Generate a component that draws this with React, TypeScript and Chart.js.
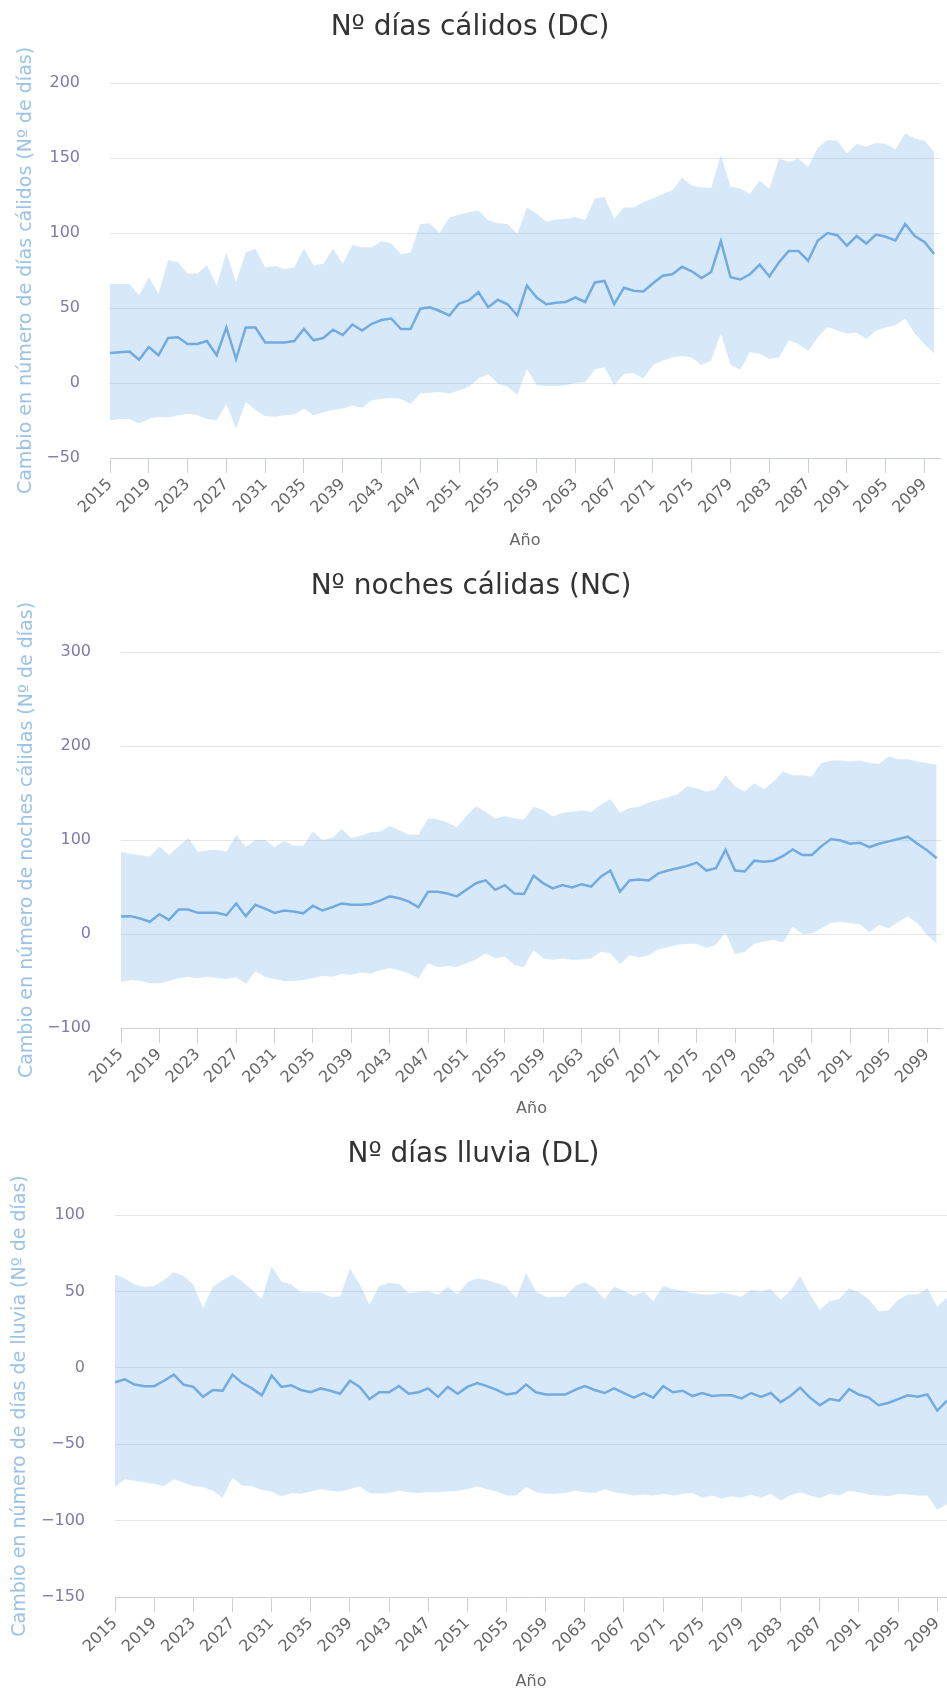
import React, { useEffect, useRef } from 'react';
import { Chart, registerables } from 'chart.js';

Chart.register(...registerables);

const YEARS: number[] = Array.from({ length: 86 }, (_, i) => 2015 + i);
const TICK_YEARS: number[] = [2015, 2019, 2023, 2027, 2031, 2035, 2039, 2043, 2047, 2051, 2055, 2059, 2063, 2067, 2071, 2075, 2079, 2083, 2087, 2091, 2095, 2099];

// Nº días cálidos (DC)
const DC_MEDIAN: number[] = [
  20, 20.5, 21, 15.5, 24, 18.5, 30, 30.5, 26, 26,
  28, 18.5, 37, 16, 37, 37, 27, 27, 27, 28,
  36, 28.5, 30, 35.5, 32, 39, 35, 39.5, 42, 43,
  36, 36, 49.5, 50.5, 48, 45, 53, 55, 60.5, 50.5,
  55.5, 52.5, 45, 65, 57, 52.5, 53.5, 54, 57, 54,
  67, 68, 52.5, 63.5, 61.5, 61, 66.5, 71.5, 72.5, 77.5,
  74.5, 70, 74, 94.5, 70.5, 69, 72.5, 79, 71, 80.5,
  88, 88, 81.5, 95, 100, 98.5, 91.5, 98, 93, 99,
  97.5, 95, 106, 98, 94, 86,
];
const DC_HIGH: number[] = [
  66, 66, 66, 58.5, 70.5, 59.5, 82, 80.5, 73, 73,
  78.5, 65, 87, 67, 87, 89.5, 77, 78, 76, 77,
  89.5, 78.5, 79.5, 89.5, 79.5, 92, 90.5, 90.5, 94.5, 93,
  86, 87, 106, 106.5, 100, 110.5, 112, 114, 115, 108.5,
  106.5, 106, 99.5, 117, 113, 107.5, 109, 109.5, 110.5, 108.5,
  123, 124, 109.5, 117, 117, 120.5, 123, 126, 128.5, 137,
  131.5, 130.5, 130, 152, 131, 129.5, 126, 135, 129.5, 149.5,
  147.5, 149.5, 144, 157, 162, 161.5, 153, 159.5, 157.5, 160,
  159.5, 155.5, 166.5, 163, 161.5, 154,
];
const DC_LOW: number[] = [
  -25, -24, -24, -27, -24, -22.5, -23, -21.5, -20.5, -21.5,
  -24, -25, -14, -30.5, -12.5, -18, -22, -22.5, -21.5, -21,
  -17, -21.5, -19.5, -18, -17, -15, -16.5, -11.5, -10.5, -10,
  -10.5, -14, -7, -6.5, -6, -7, -5, -2.5, 3, 6,
  -0.5, -2.5, -8, 9.5, -1.5, -2, -2, -1.5, 0, 0.5,
  9, 10.5, -1.5, 6, 6.5, 3, 12, 15, 17, 18,
  17, 12, 15, 33, 12, 9, 20.5, 19.5, 16, 17,
  28.5, 26, 21.5, 30.5, 37.5, 35, 33, 33.5, 29.5, 35,
  37, 38.5, 43, 33, 26, 19.5,
];

// Nº noches cálidas (NC)
const NC_MEDIAN: number[] = [
  18.5, 19, 16.5, 13, 21, 15, 26, 26, 22.5, 22.5,
  22.5, 20, 32.5, 19, 31, 27, 22.5, 25, 24, 22,
  30, 25, 28.5, 32.5, 31, 31, 32, 35.5, 40, 38,
  34.5, 28.5, 45, 45, 43, 40, 47, 54, 57, 47,
  52, 43, 42.5, 62, 54, 48.5, 52, 49.5, 53, 50.5,
  61, 67.5, 45, 57, 58, 57, 64.5, 67.5, 70, 72.5,
  76, 67.5, 70, 89.5, 67.5, 66.5, 78, 77, 78, 83,
  90, 84, 84, 93.5, 101, 99.5, 96, 97, 92.5, 96,
  98.5, 101, 103.5, 96, 89, 80.5,
];
const NC_HIGH: number[] = [
  87.5, 85, 84, 82.5, 93, 84, 93, 102, 87.5, 89,
  89.5, 87.5, 105.5, 92.5, 100, 100, 92.5, 99, 94, 94,
  109, 100, 102, 111.5, 102, 104.5, 108, 109, 115, 110.5,
  105.5, 105.5, 123, 122, 118.5, 113.5, 125.5, 136, 130, 123,
  125.5, 123, 121.5, 135.5, 132, 125, 129, 130, 131.5, 130,
  137.5, 143.5, 129, 134, 135.5, 140, 142.5, 145.5, 149, 157,
  155, 151.5, 154, 169, 157, 151.5, 160.5, 154, 162, 173,
  169, 169, 167.5, 182, 184.5, 184.5, 183.5, 184.5, 182, 181,
  189, 186, 186, 183.5, 182, 180,
];
const NC_LOW: number[] = [
  -51, -49, -50, -52.5, -52.5, -50, -47, -45.5, -47, -45.5,
  -47, -48, -46, -53, -40, -45.5, -48, -50, -50, -49,
  -47, -44.5, -45.5, -42.5, -43.5, -41, -42, -38.5, -36.5, -38.5,
  -42, -47, -31, -35, -34, -35, -31, -27, -20.5, -26,
  -24, -33, -35, -17, -26, -27.5, -26, -27.5, -27, -26,
  -19, -20.5, -32, -22.5, -25, -22.5, -16.5, -14, -11.5, -10.5,
  -10.5, -15, -11.5, 1.5, -21.5, -19, -10.5, -8, -6.5, -9,
  8, 0, 0.5, 6, 12, 13, 11.5, 10.5, 1.5, 9.5,
  6, 13, 18.5, 11.5, -1, -10,
];

// Nº días lluvia (DL)
const DL_MEDIAN: number[] = [
  -9.5, -7.5, -11, -12, -12, -8.5, -4.5, -11, -12.5, -19,
  -14.5, -15, -4.5, -10, -13.5, -18, -5, -12.5, -11.5, -14.5,
  -16, -13.5, -15, -17, -8.5, -12.5, -20.5, -16, -16, -12,
  -17, -16, -13.5, -19, -12.5, -17, -12.5, -10, -12, -14.5,
  -17.5, -16.5, -11, -16, -17.5, -17.5, -17.5, -14.5, -12, -14.5,
  -16.5, -13.5, -16.5, -19.5, -16.5, -19.5, -12, -16, -15, -18.5,
  -16.5, -18.5, -18, -18, -20, -16.5, -19, -16.5, -22.5, -18.5,
  -13, -19.5, -24.5, -20.5, -21.5, -14, -17.5, -19.5, -24.5, -23,
  -20.5, -18, -19, -17.5, -28, -21.5,
];
const DL_HIGH: number[] = [
  61, 58.5, 54.5, 53, 53.5, 57.5, 62.5, 60, 54.5, 39,
  53, 57.5, 61, 56.5, 51, 45, 66.5, 56.5, 54.5, 49.5,
  49.5, 49.5, 46.5, 46.5, 65, 54.5, 41.5, 53.5, 55.5, 55,
  49, 49.5, 50, 48, 53, 48, 56, 58.5, 57.5, 55.5,
  53, 45.5, 62, 50, 46.5, 46.5, 46.5, 53.5, 56, 52,
  45, 53, 50.5, 47, 50, 43.5, 53.5, 51.5, 50.5, 49,
  48, 48, 49.5, 48, 46.5, 51, 50, 51.5, 44.5, 50.5,
  60, 48, 38, 43.5, 45, 52, 49.5, 45, 37, 37.5,
  44.5, 48, 48, 52, 40, 46,
];
const DL_LOW: number[] = [
  -78, -73, -74, -75, -76, -77.5, -73, -75, -77.5, -78,
  -80.5, -85, -72, -77, -77.5, -80, -81, -84, -82, -82.5,
  -81, -79.5, -80.5, -81, -79.5, -77.5, -82, -82.5, -82, -80.5,
  -81.5, -82, -81.5, -81.5, -81, -80.5, -79.5, -77.5, -79.5, -81,
  -83.5, -83.5, -78, -81.5, -82.5, -82.5, -82, -80.5, -81.5, -82,
  -79.5, -81.5, -82.5, -83.5, -83, -83.5, -82.5, -83.5, -82.5, -82,
  -85, -83.5, -85.5, -84, -85, -83, -85, -82.5, -87, -83.5,
  -81.5, -83.5, -85.5, -82.5, -83.5, -80.5, -81.5, -83, -83.5, -84,
  -82.5, -83, -83.5, -83.5, -93, -89,
];

const FONT = '"DejaVu Sans", Verdana, sans-serif';
const BAND = 'rgba(124, 181, 236, 0.3)';
const LINE = '#6ea6da';

type Cfg = {
  title: string;
  yTitle: string;
  low: number[];
  high: number[];
  median: number[];
  yMin: number;
  yMax: number;
  yStep: number;
  top: number;
  width: number;
  height: number;
  plotLeft: number;
  padRight: number;
  xMax: number;
  titlePadTop: number;
  titlePadBottom: number;
  xAxisHeight: number;
  xTitlePadBottom: number;
  yTitleCenter: number;
};

const pts = (arr: number[]) => arr.map((v, i) => ({ x: YEARS[i], y: v }));

function BandChart({ cfg }: { cfg: Cfg }) {
  const ref = useRef<HTMLCanvasElement | null>(null);
  useEffect(() => {
    if (!ref.current) return;
    const yTitleSize = 19;
    const chart = new Chart(ref.current, {
      type: 'line',
      data: {
        datasets: [
          { data: pts(cfg.low), borderWidth: 0, borderColor: 'rgba(0,0,0,0)', pointRadius: 0, fill: false },
          { data: pts(cfg.high), borderWidth: 0, borderColor: 'rgba(0,0,0,0)', pointRadius: 0, fill: '-1', backgroundColor: BAND },
          { data: pts(cfg.median), borderColor: LINE, borderWidth: 2.5, pointRadius: 0, fill: false, tension: 0 },
        ],
      },
      options: {
        responsive: false,
        animation: false,
        devicePixelRatio: 1,
        layout: { padding: { left: 0, right: cfg.padRight, top: 0, bottom: 0 } },
        plugins: {
          legend: { display: false },
          tooltip: { enabled: false },
          title: {
            display: true,
            text: cfg.title,
            color: '#333333',
            font: { family: FONT, size: 28, weight: 'normal' },
            padding: { top: cfg.titlePadTop, bottom: cfg.titlePadBottom },
          },
        },
        scales: {
          x: {
            type: 'linear',
            min: 2015,
            max: cfg.xMax,
            afterBuildTicks: (s: any) => {
              s.ticks = TICK_YEARS.map((v) => ({ value: v }));
            },
            afterFit: (s: any) => {
              s.height = cfg.xAxisHeight;
              s.paddingLeft = 0;
              s.paddingRight = 0;
            },
            ticks: {
              autoSkip: false,
              minRotation: 45,
              maxRotation: 45,
              padding: 2,
              color: '#666666',
              font: { family: FONT, size: 16 },
              callback: (v: any) => String(v),
            },
            grid: {
              drawOnChartArea: false,
              drawTicks: true,
              tickLength: 15,
              color: '#ccd0dc',
              tickColor: '#ccd0dc',
            },
            border: { display: true, color: '#ccd0dc', width: 1 },
            title: {
              display: true,
              text: 'Año',
              color: '#666666',
              font: { family: FONT, size: 16 },
              padding: { top: 0, bottom: cfg.xTitlePadBottom },
            },
          },
          y: {
            type: 'linear',
            min: cfg.yMin,
            max: cfg.yMax,
            afterFit: (s: any) => {
              s.width = cfg.plotLeft;
            },
            ticks: {
              stepSize: cfg.yStep,
              padding: 30,
              color: '#7f7aa8',
              font: { family: FONT, size: 16 },
              callback: (v: any) => String(v).replace('-', '\u2212'),
            },
            grid: { color: '#e6e6e6', drawTicks: false, lineWidth: 1 },
            border: { display: false },
            title: {
              display: true,
              text: cfg.yTitle,
              color: '#9cc3e6',
              font: { family: FONT, size: yTitleSize },
              padding: { top: cfg.yTitleCenter - (yTitleSize * 1.2) / 2, bottom: 0 },
            },
          },
        },
      },
    } as any);
    return () => chart.destroy();
  }, [cfg]);
  return (
    <div style={{ position: 'absolute', left: 0, top: cfg.top, width: cfg.width, height: cfg.height }}>
      <canvas ref={ref} width={cfg.width} height={cfg.height} style={{ display: 'block', width: cfg.width, height: cfg.height }} />
    </div>
  );
}

const CHARTS: Cfg[] = [
  {
    title: 'Nº días cálidos (DC)',
    yTitle: 'Cambio en número de días cálidos (Nº de días)',
    low: DC_LOW, high: DC_HIGH, median: DC_MEDIAN,
    yMin: -50, yMax: 200, yStep: 50,
    top: 0, width: 947, height: 555,
    plotLeft: 110, padRight: 7, xMax: 2100.6,
    titlePadTop: 10.7, titlePadBottom: 38.7,
    xAxisHeight: 97, xTitlePadBottom: 4.4, yTitleCenter: 26.5,
  },
  {
    title: 'Nº noches cálidas (NC)',
    yTitle: 'Cambio en número de noches cálidas (Nº de días)',
    low: NC_LOW, high: NC_HIGH, median: NC_MEDIAN,
    yMin: -100, yMax: 300, yStep: 100,
    top: 555, width: 947, height: 568,
    plotLeft: 121, padRight: 5, xMax: 2100.56,
    titlePadTop: 15.2, titlePadBottom: 48.2,
    xAxisHeight: 95, xTitlePadBottom: 4.4, yTitleCenter: 27,
  },
  {
    title: 'Nº días lluvia (DL)',
    yTitle: 'Cambio en número de días de lluvia (Nº de días)',
    low: DL_LOW, high: DL_HIGH, median: DL_MEDIAN,
    yMin: -150, yMax: 100, yStep: 50,
    top: 1123, width: 947, height: 570,
    plotLeft: 115, padRight: 0, xMax: 2100,
    titlePadTop: 15.2, titlePadBottom: 43.2,
    xAxisHeight: 96, xTitlePadBottom: 1.4, yTitleCenter: 20,
  },
];

export default function App() {
  return (
    <div style={{ position: 'absolute', left: 0, top: 0, width: 947, height: 1693, overflow: 'hidden', background: '#ffffff' }}>
      {CHARTS.map((c) => (
        <BandChart key={c.title} cfg={c} />
      ))}
    </div>
  );
}
